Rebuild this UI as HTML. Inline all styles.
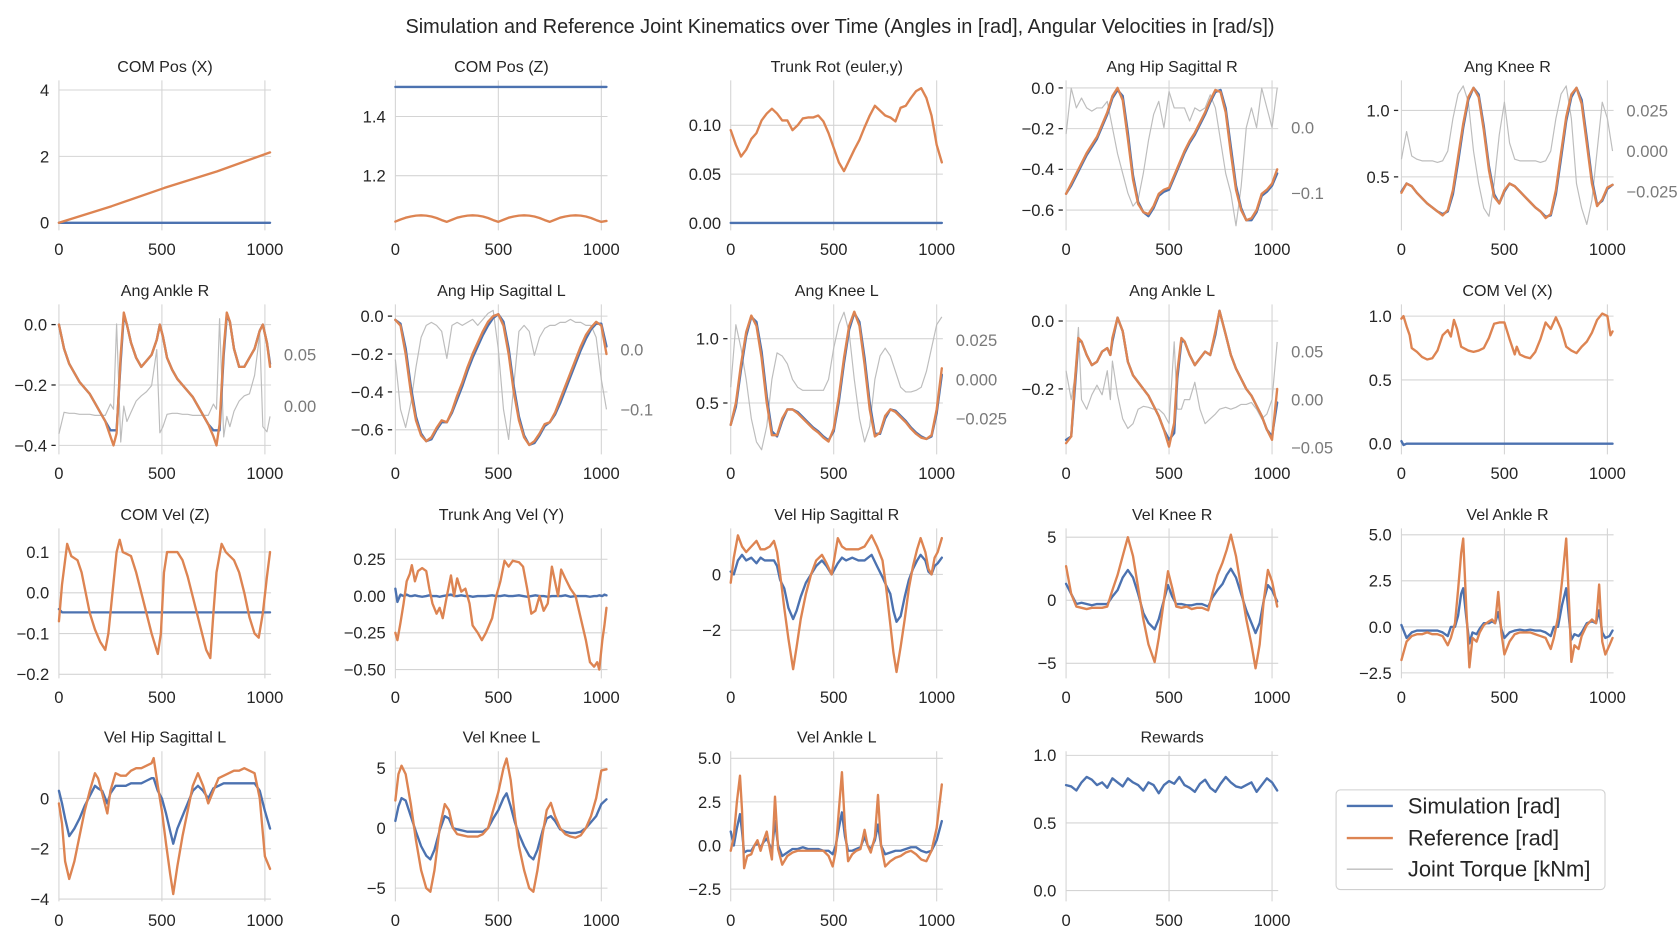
<!DOCTYPE html>
<html><head><meta charset="utf-8"><style>
html,body{margin:0;padding:0;background:#fff;}
svg{display:block;font-family:"Liberation Sans",Arial,sans-serif;}
</style></head>
<body>
<svg id="fig" width="1680" height="941" viewBox="0 0 1568 878" preserveAspectRatio="none" xmlns="http://www.w3.org/2000/svg">
<rect x="0" y="0" width="1568" height="878" fill="#fff"/>
<text x="784" y="31" font-size="18.6" text-anchor="middle" fill="#262626">Simulation and Reference Joint Kinematics over Time (Angles in [rad], Angular Velocities in [rad/s])</text>
<g id="panels"></g>
<g>
<rect x="1247" y="737" width="251" height="93" rx="4" fill="#fff" stroke="#d0d0d0" stroke-width="1"/>
<line x1="1257" y1="752" x2="1300" y2="752" stroke="#4c72b0" stroke-width="2.2"/>
<text x="1314" y="759" font-size="20.5" fill="#262626">Simulation [rad]</text>
<line x1="1257" y1="782" x2="1300" y2="782" stroke="#dd8452" stroke-width="2.2"/>
<text x="1314" y="789" font-size="20.5" fill="#262626">Reference [rad]</text>
<line x1="1257" y1="811" x2="1300" y2="811" stroke="#bdbdbd" stroke-width="1.2"/>
<text x="1314" y="818" font-size="20.5" fill="#262626">Joint Torque [kNm]</text>
</g>
</svg>
<script>
// ---------- DATA ----------
const xTicks=[0,500,1000];
const xTickLabels=['0','500','1000'];
const U=[0,25,50,75,100,125,150,175,200,225,250,275,300,325,350,375,400,425,450,475,500,525,550,575,600,625,650,675,700,725,750,775,800,825,850,875,900,925,950,975,1000,1025];

const p1_t=[0,256,512,768,1025];
const p1_ref=[0,0.5,1.05,1.55,2.12];
const p1_sim=[0,0,0,0,0];

const p2_t=U;
const p2_ref=[1.045,1.052,1.058,1.062,1.065,1.066,1.065,1.062,1.057,1.050,1.044,1.051,1.058,1.062,1.065,1.066,1.065,1.062,1.057,1.050,1.044,1.051,1.058,1.062,1.065,1.066,1.065,1.062,1.057,1.050,1.044,1.051,1.058,1.062,1.065,1.066,1.065,1.062,1.057,1.050,1.044,1.047];
const p2_sim=[1.5,1.5,1.5,1.5,1.5,1.5,1.5,1.5,1.5,1.5,1.5,1.5,1.5,1.5,1.5,1.5,1.5,1.5,1.5,1.5,1.5,1.5,1.5,1.5,1.5,1.5,1.5,1.5,1.5,1.5,1.5,1.5,1.5,1.5,1.5,1.5,1.5,1.5,1.5,1.5,1.5,1.5];

const p3_t=U;
const p3_ref=[0.095,0.08,0.068,0.075,0.086,0.092,0.105,0.112,0.117,0.112,0.105,0.105,0.095,0.1,0.107,0.108,0.108,0.11,0.104,0.092,0.077,0.062,0.053,0.064,0.075,0.085,0.098,0.11,0.12,0.115,0.11,0.108,0.104,0.118,0.12,0.128,0.135,0.138,0.128,0.11,0.08,0.062];
const p3_sim=[0,0,0,0,0,0,0,0,0,0,0,0,0,0,0,0,0,0,0,0,0,0,0,0,0,0,0,0,0,0,0,0,0,0,0,0,0,0,0,0,0,0];

const p4_t=U;
const p4_ref=[-0.52,-0.47,-0.42,-0.37,-0.32,-0.28,-0.24,-0.18,-0.12,-0.04,0.0,-0.06,-0.25,-0.45,-0.57,-0.61,-0.62,-0.58,-0.52,-0.50,-0.49,-0.43,-0.37,-0.31,-0.26,-0.22,-0.17,-0.12,-0.06,-0.01,-0.02,-0.12,-0.32,-0.5,-0.6,-0.65,-0.64,-0.6,-0.52,-0.5,-0.47,-0.40];
const p4_sim=[-0.52,-0.48,-0.43,-0.38,-0.33,-0.29,-0.25,-0.19,-0.13,-0.05,-0.01,-0.04,-0.22,-0.43,-0.56,-0.61,-0.63,-0.59,-0.53,-0.51,-0.50,-0.44,-0.38,-0.32,-0.27,-0.23,-0.18,-0.13,-0.07,-0.02,-0.01,-0.10,-0.29,-0.48,-0.59,-0.65,-0.65,-0.61,-0.53,-0.51,-0.48,-0.42];
const p4_tq=[-0.01,0.06,0.03,0.045,0.03,0.025,0.03,0.03,0.04,0.0,-0.04,-0.07,-0.1,-0.12,-0.11,-0.07,-0.02,0.02,0.04,0.0,0.055,0.03,0.03,0.03,0.01,0.03,0.025,0.03,0.05,0.03,-0.02,-0.07,-0.1,-0.15,-0.09,0.0,0.03,0.0,0.06,0.03,0.0,0.06];

const p5_t=U;
const p5_ref=[0.38,0.45,0.43,0.38,0.34,0.30,0.27,0.24,0.21,0.25,0.40,0.65,0.90,1.10,1.17,1.10,0.85,0.55,0.35,0.30,0.40,0.45,0.43,0.39,0.35,0.31,0.27,0.24,0.19,0.22,0.40,0.68,0.95,1.12,1.17,1.05,0.75,0.45,0.28,0.33,0.42,0.44];
const p5_sim=[0.39,0.45,0.43,0.38,0.34,0.30,0.27,0.24,0.22,0.24,0.37,0.61,0.87,1.08,1.17,1.12,0.88,0.58,0.37,0.30,0.39,0.45,0.43,0.39,0.35,0.31,0.27,0.24,0.20,0.21,0.37,0.64,0.92,1.10,1.17,1.08,0.79,0.48,0.29,0.32,0.41,0.44];
const p5_tq=[-0.005,0.012,-0.003,-0.005,-0.006,-0.006,-0.006,-0.007,-0.006,0.0,0.02,0.035,0.04,0.03,0.0,-0.02,-0.035,-0.04,-0.02,0.01,0.03,0.005,-0.005,-0.006,-0.006,-0.006,-0.006,-0.007,-0.006,0.0,0.02,0.035,0.04,0.02,-0.02,-0.035,-0.045,-0.03,0.0,0.03,0.02,0.0];

const p6_t=[0,25,50,75,100,125,150,175,200,225,250,265,280,300,315,330,350,375,400,425,450,475,490,505,525,550,575,600,625,650,675,700,725,750,765,780,800,815,830,850,875,900,925,950,975,990,1010,1025];
const p6_ref=[0,-0.08,-0.13,-0.16,-0.19,-0.21,-0.23,-0.26,-0.29,-0.32,-0.37,-0.40,-0.36,-0.1,0.04,0.0,-0.06,-0.11,-0.14,-0.12,-0.10,-0.05,0.0,-0.04,-0.11,-0.15,-0.18,-0.20,-0.22,-0.24,-0.27,-0.30,-0.33,-0.37,-0.40,-0.33,-0.08,0.04,0.01,-0.08,-0.14,-0.14,-0.11,-0.08,-0.02,0.0,-0.06,-0.14];
const p6_sim=[0,-0.08,-0.13,-0.16,-0.19,-0.21,-0.23,-0.26,-0.29,-0.32,-0.35,-0.35,-0.35,-0.12,0.03,0.0,-0.06,-0.11,-0.14,-0.12,-0.10,-0.05,0.0,-0.04,-0.11,-0.15,-0.18,-0.20,-0.22,-0.24,-0.27,-0.30,-0.33,-0.35,-0.35,-0.35,-0.1,0.03,0.01,-0.08,-0.14,-0.14,-0.11,-0.08,-0.02,0.0,-0.06,-0.13];
const p6_tq=[-0.027,-0.006,-0.007,-0.007,-0.008,-0.008,-0.008,-0.009,-0.009,-0.009,0.002,-0.003,0.08,-0.035,0.0,-0.015,-0.006,0.005,0.01,0.014,0.02,0.055,-0.026,-0.02,-0.008,-0.007,-0.007,-0.008,-0.008,-0.009,-0.009,-0.009,-0.009,0.002,-0.003,0.085,-0.03,-0.01,-0.02,-0.005,0.005,0.01,0.012,0.03,0.07,-0.02,-0.025,-0.01];

const p7_t=U;
const p7_ref=[-0.02,-0.05,-0.2,-0.4,-0.55,-0.63,-0.66,-0.64,-0.59,-0.55,-0.56,-0.5,-0.42,-0.35,-0.27,-0.2,-0.14,-0.08,-0.03,0.0,0.01,-0.05,-0.2,-0.4,-0.55,-0.64,-0.68,-0.66,-0.62,-0.57,-0.56,-0.51,-0.44,-0.37,-0.3,-0.23,-0.16,-0.1,-0.06,-0.03,-0.05,-0.2];
const p7_sim=[-0.02,-0.04,-0.17,-0.37,-0.53,-0.62,-0.66,-0.65,-0.6,-0.56,-0.56,-0.51,-0.44,-0.37,-0.29,-0.22,-0.16,-0.1,-0.05,-0.01,0.01,-0.03,-0.17,-0.37,-0.53,-0.63,-0.68,-0.67,-0.63,-0.58,-0.56,-0.52,-0.46,-0.39,-0.32,-0.25,-0.18,-0.12,-0.07,-0.04,-0.04,-0.16];
const p7_tq=[-0.017,-0.1,-0.13,-0.09,-0.03,0.02,0.04,0.045,0.04,0.03,-0.015,0.04,0.045,0.04,0.045,0.05,0.04,0.05,0.06,0.065,0.0,-0.1,-0.15,-0.06,0.03,0.04,0.03,-0.01,0.02,0.035,0.04,0.04,0.045,0.045,0.05,0.045,0.045,0.04,0.04,0.02,-0.05,-0.1];

const p8_t=U;
const p8_ref=[0.33,0.5,0.8,1.05,1.18,1.1,0.85,0.5,0.25,0.25,0.38,0.45,0.45,0.42,0.38,0.34,0.3,0.27,0.23,0.20,0.30,0.55,0.85,1.1,1.21,1.1,0.8,0.45,0.24,0.27,0.40,0.45,0.43,0.39,0.35,0.30,0.26,0.23,0.22,0.25,0.45,0.77];
const p8_sim=[0.33,0.47,0.76,1.02,1.17,1.13,0.9,0.55,0.28,0.24,0.36,0.45,0.45,0.43,0.39,0.35,0.31,0.28,0.24,0.21,0.28,0.51,0.81,1.07,1.2,1.13,0.85,0.5,0.26,0.26,0.38,0.45,0.44,0.4,0.36,0.31,0.27,0.24,0.22,0.24,0.42,0.72];
const p8_tq=[-0.005,0.035,0.02,0.0,-0.025,-0.04,-0.045,-0.03,0.0,0.017,0.015,0.01,0.0,-0.005,-0.007,-0.007,-0.007,-0.007,-0.007,0.0,0.02,0.035,0.043,0.03,0.0,-0.025,-0.04,-0.03,0.0,0.015,0.02,0.015,0.005,-0.005,-0.008,-0.008,-0.007,-0.005,0.005,0.02,0.035,0.04];

const p9_t=[0,25,40,60,75,100,125,150,175,200,215,225,250,275,300,325,350,375,400,425,450,475,500,525,540,560,575,600,625,650,675,700,725,745,775,800,825,850,875,900,925,950,975,1000,1025];
const p9_ref=[-0.36,-0.34,-0.2,-0.05,-0.06,-0.1,-0.13,-0.12,-0.09,-0.08,-0.1,-0.05,0.01,-0.03,-0.12,-0.16,-0.18,-0.2,-0.22,-0.25,-0.28,-0.32,-0.37,-0.3,-0.15,-0.05,-0.06,-0.1,-0.13,-0.11,-0.09,-0.1,-0.03,0.03,-0.04,-0.1,-0.14,-0.17,-0.2,-0.22,-0.25,-0.28,-0.32,-0.35,-0.2];
const p9_sim=[-0.35,-0.34,-0.22,-0.06,-0.06,-0.1,-0.13,-0.12,-0.09,-0.08,-0.1,-0.06,0.01,-0.03,-0.12,-0.16,-0.18,-0.2,-0.22,-0.25,-0.28,-0.32,-0.35,-0.33,-0.17,-0.06,-0.06,-0.1,-0.13,-0.11,-0.09,-0.1,-0.04,0.03,-0.04,-0.1,-0.14,-0.17,-0.2,-0.22,-0.25,-0.28,-0.32,-0.34,-0.24];
const p9_tq=[0.03,0.0,0.02,0.075,0.0,-0.01,0.005,0.015,0.005,0.03,0.0,0.04,0.005,-0.02,-0.03,-0.025,-0.01,-0.007,-0.008,-0.01,-0.01,-0.015,-0.025,0.06,-0.01,-0.01,0.0,0.0,0.018,-0.01,-0.025,-0.02,-0.015,-0.01,-0.008,-0.01,-0.008,-0.005,-0.005,-0.003,-0.01,-0.02,-0.015,0.0,0.06];

const p10_t=[0,10,25,40,50,75,100,125,150,175,200,225,240,255,270,290,325,350,375,400,425,450,475,500,525,550,560,575,600,625,650,675,700,725,750,775,800,825,850,875,900,925,950,975,1000,1015,1025];
const p10_ref=[0.98,1.0,0.92,0.85,0.75,0.72,0.68,0.66,0.67,0.73,0.85,0.89,0.84,0.97,0.9,0.76,0.73,0.72,0.73,0.75,0.83,0.94,0.95,0.95,0.82,0.7,0.76,0.7,0.68,0.67,0.72,0.82,0.95,0.9,0.99,0.9,0.76,0.73,0.71,0.76,0.8,0.87,0.97,1.02,1.0,0.85,0.88];
const p10_sim=[0.02,-0.01,0.0,0.0,0.0,0.0,0.0,0.0,0.0,0.0,0.0,0.0,0.0,0.0,0.0,0.0,0.0,0.0,0.0,0.0,0.0,0.0,0.0,0.0,0.0,0.0,0.0,0.0,0.0,0.0,0.0,0.0,0.0,0.0,0.0,0.0,0.0,0.0,0.0,0.0,0.0,0.0,0.0,0.0,0.0,0.0,0.0];

const p11_t=[0,15,30,40,60,90,110,130,150,175,200,225,240,260,280,295,310,350,375,400,425,450,480,495,510,525,550,575,600,625,650,675,700,715,735,750,765,790,810,850,875,900,925,950,970,990,1010,1025];
const p11_ref=[-0.07,0.02,0.08,0.12,0.09,0.08,0.05,0.0,-0.05,-0.09,-0.12,-0.14,-0.1,0.0,0.1,0.13,0.1,0.09,0.05,0.0,-0.05,-0.1,-0.15,-0.1,0.05,0.1,0.1,0.1,0.08,0.04,-0.01,-0.06,-0.11,-0.14,-0.16,-0.05,0.05,0.12,0.1,0.08,0.05,0.0,-0.06,-0.1,-0.11,-0.05,0.04,0.1];
const p11_sim=[-0.04,-0.048,-0.048,-0.048,-0.048,-0.048,-0.048,-0.048,-0.048,-0.048,-0.048,-0.048,-0.048,-0.048,-0.048,-0.048,-0.048,-0.048,-0.048,-0.048,-0.048,-0.048,-0.048,-0.048,-0.048,-0.048,-0.048,-0.048,-0.048,-0.048,-0.048,-0.048,-0.048,-0.048,-0.048,-0.048,-0.048,-0.048,-0.048,-0.048,-0.048,-0.048,-0.048,-0.048,-0.048,-0.048,-0.048,-0.048];

const p12_t=[0,10,25,40,55,70,80,95,110,130,150,165,180,200,215,230,250,270,285,300,320,340,360,375,400,420,440,470,490,510,530,550,570,600,620,640,660,680,700,720,740,760,775,790,805,825,850,875,900,925,945,965,980,990,1005,1015,1025];
const p12_ref=[-0.25,-0.3,-0.18,-0.05,0.1,0.15,0.21,0.1,0.17,0.19,0.17,0.05,-0.05,-0.12,-0.08,-0.15,0.0,0.14,0.0,0.12,0.03,0.05,-0.05,-0.2,-0.25,-0.3,-0.25,-0.15,0.0,0.1,0.24,0.2,0.24,0.23,0.2,0.05,-0.12,-0.1,0.0,-0.1,-0.05,0.2,0.1,0.0,0.18,0.12,0.05,0.0,-0.15,-0.3,-0.45,-0.48,-0.45,-0.5,-0.3,-0.2,-0.08];
const p12_sim=[0.05,-0.04,0.01,0.0,0.01,0.0,0.0,0.005,0.0,-0.005,0.0,0.005,0.0,0.0,-0.005,0.0,0.005,0.01,0.0,0.0,0.005,0.0,0.0,-0.005,0.0,0.0,0.0,0.005,0.0,0.0,0.005,0.0,0.0,0.005,0.0,-0.005,0.0,0.005,0.0,0.0,-0.005,0.0,0.0,0.0,0.0,0.005,-0.005,0.0,0.0,0.0,-0.005,0.0,0.0,0.005,0.0,0.01,0.005];

const p13_t=[0,15,35,55,75,100,125,145,165,190,210,225,240,260,280,303,320,340,365,390,415,443,465,490,520,540,560,590,620,650,684,710,737,755,775,790,805,825,845,865,885,905,922,945,960,975,990,1005,1025];
const p13_ref=[-0.3,0.6,1.4,1.0,0.8,1.0,1.2,0.9,0.9,1.0,1.2,0.8,0.0,-1.2,-2.3,-3.4,-2.6,-1.6,-0.7,0.0,0.5,0.7,0.4,0.0,1.3,1.0,0.9,0.9,0.9,1.0,1.4,1.0,0.5,-0.5,-1.8,-2.8,-3.5,-2.6,-1.6,-0.5,0.3,0.9,1.3,0.8,0.2,0.0,0.6,0.8,1.3];
const p13_sim=[0.1,0.0,0.5,0.7,0.5,0.6,0.4,0.6,0.5,0.5,0.5,0.3,-0.2,-0.5,-1.2,-1.6,-1.3,-0.8,-0.3,0.0,0.3,0.5,0.3,0.0,0.4,0.6,0.5,0.6,0.5,0.5,0.7,0.3,-0.1,-0.4,-0.7,-1.3,-1.7,-1.5,-0.8,-0.2,0.2,0.5,0.7,0.5,0.1,0.0,0.3,0.4,0.6];

const p14_t=[0,25,50,75,100,125,150,175,200,225,250,275,300,325,350,375,400,430,450,475,495,515,535,560,585,610,635,660,690,710,735,760,780,800,825,850,875,900,920,940,960,980,1000,1025];
const p14_ref=[2.7,0.5,-0.5,-0.6,-0.7,-0.6,-0.6,-0.6,-0.5,0.8,2.0,3.5,5.0,3.5,1.0,-1.5,-3.5,-4.9,-3.0,0.0,2.3,1.0,-0.5,-0.6,-0.5,-0.7,-0.6,-0.6,-0.8,0.5,2.0,3.0,4.0,5.2,3.5,1.0,-1.5,-3.5,-5.4,-3.5,0.0,2.4,1.5,-0.5];
const p14_sim=[1.3,0.5,-0.3,-0.2,-0.3,-0.4,-0.3,-0.3,-0.3,0.3,0.8,1.8,2.4,1.8,0.5,-1.0,-1.8,-2.3,-1.5,0.0,1.2,0.3,-0.3,-0.3,-0.4,-0.4,-0.3,-0.3,-0.5,0.2,0.8,1.3,2.0,2.5,1.8,0.5,-0.8,-1.8,-2.6,-1.8,0.0,1.2,0.8,-0.1];

const p15_t=[0,25,50,75,100,125,150,175,200,225,240,260,275,290,300,315,330,345,365,380,400,425,440,455,470,485,500,525,550,575,600,625,650,675,700,725,740,760,780,800,815,825,840,860,875,900,925,945,960,975,990,1010,1025];
const p15_ref=[-1.8,-0.8,-0.5,-0.4,-0.4,-0.3,-0.4,-0.4,-0.5,-1.0,-0.6,0.2,2.0,4.0,4.8,1.0,-2.2,-0.6,-0.8,-0.3,0.1,0.3,0.4,0.2,1.9,-0.3,-1.5,-0.8,-0.4,-0.3,-0.3,-0.3,-0.4,-0.5,-0.6,-1.2,-0.6,0.5,2.5,4.8,1.0,-1.9,-1.0,-1.2,-0.5,0.1,0.4,0.2,2.3,-0.8,-1.5,-1.0,-0.6];
const p15_sim=[0.1,-0.6,-0.3,-0.2,-0.2,-0.2,-0.2,-0.2,-0.3,-0.5,0.0,0.0,0.6,1.8,2.1,0.5,-0.9,-0.3,-0.4,-0.1,0.2,0.2,0.3,0.2,0.8,-0.1,-0.6,-0.3,-0.2,-0.15,-0.2,-0.15,-0.2,-0.2,-0.3,-0.5,0.0,0.0,1.2,2.1,0.3,-0.7,-0.4,-0.5,-0.3,0.2,0.3,0.2,0.9,-0.3,-0.6,-0.5,-0.2];

const p16_t=[0,15,30,50,75,100,125,150,175,190,210,235,250,275,300,325,350,375,400,425,450,460,480,500,520,540,555,575,600,625,650,675,700,725,750,775,800,825,850,875,900,925,950,975,1000,1025];
const p16_ref=[-0.2,-1.0,-2.5,-3.2,-2.5,-1.5,-0.5,0.3,1.0,0.8,0.2,-0.6,0.3,1.0,0.9,0.9,1.1,1.2,1.2,1.3,1.4,1.6,0.5,-0.5,-1.8,-3.0,-3.8,-2.7,-1.5,-0.5,0.5,1.0,0.5,-0.2,0.3,0.8,0.9,1.0,1.1,1.1,1.2,1.1,1.0,0.0,-2.3,-2.8];
const p16_sim=[0.3,-0.2,-0.8,-1.5,-1.2,-0.8,-0.3,0.1,0.5,0.4,0.3,-0.2,0.2,0.5,0.5,0.5,0.6,0.6,0.6,0.7,0.8,0.8,0.3,0.0,-0.6,-1.3,-1.8,-1.2,-0.7,-0.2,0.3,0.5,0.3,0.0,0.4,0.5,0.6,0.6,0.6,0.6,0.6,0.6,0.6,0.3,-0.5,-1.2];

const p17_t=[0,15,30,50,75,100,125,150,170,190,215,240,260,280,300,325,350,375,400,425,450,475,500,525,540,560,580,600,625,650,670,690,715,735,755,775,800,825,850,875,900,925,950,975,1000,1025];
const p17_ref=[2.3,4.5,5.2,4.5,2.0,-1.0,-3.5,-5.0,-5.3,-3.5,0.0,2.0,1.5,0.0,-0.5,-0.6,-0.7,-0.7,-0.7,-0.5,0.0,1.5,3.0,5.0,5.8,4.0,1.0,-1.5,-3.5,-5.0,-5.3,-3.5,-0.5,1.5,2.1,1.0,0.0,-0.5,-0.7,-0.8,-0.6,0.0,1.0,2.5,4.8,4.9];
const p17_sim=[0.6,1.8,2.5,2.3,1.0,-0.3,-1.5,-2.3,-2.6,-1.8,-0.2,1.0,0.8,0.0,-0.1,-0.2,-0.3,-0.3,-0.3,-0.3,0.0,0.8,1.5,2.5,2.9,1.8,0.5,-0.5,-1.5,-2.3,-2.6,-1.8,-0.2,0.8,1.0,0.6,-0.1,-0.3,-0.4,-0.4,-0.3,0.0,0.5,1.0,2.0,2.4];

const p18_t=[0,15,30,45,55,65,80,100,115,130,145,160,175,190,200,215,230,250,275,300,325,350,375,400,425,450,475,495,510,525,540,555,570,590,610,630,650,665,680,700,715,730,750,775,800,825,850,875,900,925,950,975,1000,1025];
const p18_ref=[-0.3,0.5,2.5,4.0,2.0,-1.3,-0.6,-0.5,0.0,0.3,-0.3,0.3,0.8,-0.2,-0.8,2.8,-0.2,-1.1,-0.6,-0.4,-0.3,-0.3,-0.3,-0.3,-0.3,-0.3,-0.6,-1.2,-0.3,2.0,4.2,1.0,-0.9,-0.5,-0.3,-0.2,0.9,0.0,-0.4,0.5,2.9,0.0,-1.2,-0.9,-0.7,-0.6,-0.4,-0.3,-0.5,-0.8,-0.9,-0.3,1.0,3.5];
const p18_sim=[0.8,0.0,1.0,1.8,0.8,-0.4,-0.3,-0.3,0.0,0.1,-0.1,0.2,0.4,0.0,-0.3,1.4,0.0,-0.6,-0.4,-0.2,-0.2,-0.1,-0.2,-0.2,-0.2,-0.3,-0.3,-0.5,0.0,1.0,1.9,0.5,-0.3,-0.3,-0.2,-0.1,0.5,0.0,-0.2,0.3,1.2,0.0,-0.5,-0.4,-0.3,-0.3,-0.2,-0.1,-0.1,-0.3,-0.4,-0.3,0.3,1.4];

const p19_t=U;
const p19_sim=[0.78,0.77,0.74,0.80,0.84,0.82,0.78,0.80,0.76,0.83,0.80,0.77,0.83,0.80,0.78,0.74,0.80,0.78,0.72,0.78,0.81,0.79,0.84,0.78,0.76,0.73,0.79,0.82,0.76,0.73,0.79,0.84,0.80,0.77,0.76,0.78,0.80,0.73,0.78,0.83,0.80,0.74];

// tick arrays
const p1_yt=[0,2,4], p1_yl=['0','2','4'];
const p2_yt=[1.2,1.4], p2_yl=['1.2','1.4'];
const p3_yt=[0,0.05,0.10], p3_yl=['0.00','0.05','0.10'];
const p4_yt=[-0.6,-0.4,-0.2,0], p4_yl=['−0.6','−0.4','−0.2','0.0'];
const p4_rt=[-0.1,0], p4_rl=['−0.1','0.0'];
const p5_yt=[0.5,1.0], p5_yl=['0.5','1.0'];
const p5_rt=[-0.025,0,0.025], p5_rl=['−0.025','0.000','0.025'];
const p6_yt=[-0.4,-0.2,0], p6_yl=['−0.4','−0.2','0.0'];
const p6_rt=[0,0.05], p6_rl=['0.00','0.05'];
const p7_yt=[-0.6,-0.4,-0.2,0], p7_yl=['−0.6','−0.4','−0.2','0.0'];
const p7_rt=[-0.1,0], p7_rl=['−0.1','0.0'];
const p8_yt=[0.5,1.0], p8_yl=['0.5','1.0'];
const p8_rt=[-0.025,0,0.025], p8_rl=['−0.025','0.000','0.025'];
const p9_yt=[-0.2,0], p9_yl=['−0.2','0.0'];
const p9_rt=[-0.05,0,0.05], p9_rl=['−0.05','0.00','0.05'];
const p10_yt=[0,0.5,1.0], p10_yl=['0.0','0.5','1.0'];
const p11_yt=[-0.2,-0.1,0,0.1], p11_yl=['−0.2','−0.1','0.0','0.1'];
const p12_yt=[-0.5,-0.25,0,0.25], p12_yl=['−0.50','−0.25','0.00','0.25'];
const p13_yt=[-2,0], p13_yl=['−2','0'];
const p14_yt=[-5,0,5], p14_yl=['−5','0','5'];
const p15_yt=[-2.5,0,2.5,5], p15_yl=['−2.5','0.0','2.5','5.0'];
const p16_yt=[-4,-2,0], p16_yl=['−4','−2','0'];
const p17_yt=[-5,0,5], p17_yl=['−5','0','5'];
const p18_yt=[-2.5,0,2.5,5], p18_yl=['−2.5','0.0','2.5','5.0'];
const p19_yt=[0,0.5,1.0], p19_yl=['0.0','0.5','1.0'];

// ---------- LAYOUT ----------
const colLeft=[55,369,682,995,1308];
const rowTop=[75,284,493,701];
const PW=198, PH=140, XMAX=1030;
const SIM='#4c72b0', REF='#dd8452', TQ='#bdbdbd';
const TICKFS=15.5, TITLEFS=15;

const panels=[
 {name:'com-pos-x',title:'COM Pos (X)',c:0,r:0,d:[-0.23,4.29],yt:p1_yt,yl:p1_yl,t:p1_t,sim:p1_sim,ref:p1_ref},
 {name:'com-pos-z',title:'COM Pos (Z)',c:1,r:0,d:[1.015,1.522],yt:p2_yt,yl:p2_yl,t:p2_t,sim:p2_sim,ref:p2_ref},
 {name:'trunk-rot',title:'Trunk Rot (euler,y)',c:2,r:0,d:[-0.0077,0.146],yt:p3_yt,yl:p3_yl,t:p3_t,sim:p3_sim,ref:p3_ref},
 {name:'ang-hip-sagittal-r',title:'Ang Hip Sagittal R',c:3,r:0,d:[-0.7,0.037],yt:p4_yt,yl:p4_yl,t:p4_t,sim:p4_sim,ref:p4_ref,tq:p4_tq,rd:[-0.157,0.072],rt:p4_rt,rl:p4_rl},
 {name:'ang-knee-r',title:'Ang Knee R',c:4,r:0,d:[0.097,1.226],yt:p5_yt,yl:p5_yl,t:p5_t,sim:p5_sim,ref:p5_ref,tq:p5_tq,rd:[-0.0487,0.0434],rt:p5_rt,rl:p5_rl},
 {name:'ang-ankle-r',title:'Ang Ankle R',c:0,r:1,d:[-0.43,0.067],yt:p6_yt,yl:p6_yl,t:p6_t,sim:p6_sim,ref:p6_ref,tq:p6_tq,rd:[-0.047,0.099],rt:p6_rt,rl:p6_rl},
 {name:'ang-hip-sagittal-l',title:'Ang Hip Sagittal L',c:1,r:1,d:[-0.73,0.062],yt:p7_yt,yl:p7_yl,t:p7_t,sim:p7_sim,ref:p7_ref,tq:p7_tq,rd:[-0.175,0.075],rt:p7_rt,rl:p7_rl},
 {name:'ang-knee-l',title:'Ang Knee L',c:2,r:1,d:[0.1,1.267],yt:p8_yt,yl:p8_yl,t:p8_t,sim:p8_sim,ref:p8_ref,tq:p8_tq,rd:[-0.048,0.048],rt:p8_rt,rl:p8_rl},
 {name:'ang-ankle-l',title:'Ang Ankle L',c:3,r:1,d:[-0.393,0.049],yt:p9_yt,yl:p9_yl,t:p9_t,sim:p9_sim,ref:p9_ref,tq:p9_tq,rd:[-0.057,0.099],rt:p9_rt,rl:p9_rl},
 {name:'com-vel-x',title:'COM Vel (X)',c:4,r:1,d:[-0.084,1.092],yt:p10_yt,yl:p10_yl,t:p10_t,sim:p10_sim,ref:p10_ref},
 {name:'com-vel-z',title:'COM Vel (Z)',c:0,r:2,d:[-0.21,0.158],yt:p11_yt,yl:p11_yl,t:p11_t,sim:p11_sim,ref:p11_ref},
 {name:'trunk-ang-vel',title:'Trunk Ang Vel (Y)',c:1,r:2,d:[-0.56,0.46],yt:p12_yt,yl:p12_yl,t:p12_t,sim:p12_sim,ref:p12_ref},
 {name:'vel-hip-sagittal-r',title:'Vel Hip Sagittal R',c:2,r:2,d:[-3.73,1.65],yt:p13_yt,yl:p13_yl,t:p13_t,sim:p13_sim,ref:p13_ref},
 {name:'vel-knee-r',title:'Vel Knee R',c:3,r:2,d:[-6.2,5.7],yt:p14_yt,yl:p14_yl,t:p14_t,sim:p14_sim,ref:p14_ref},
 {name:'vel-ankle-r',title:'Vel Ankle R',c:4,r:2,d:[-2.8,5.35],yt:p15_yt,yl:p15_yl,t:p15_t,sim:p15_sim,ref:p15_ref},
 {name:'vel-hip-sagittal-l',title:'Vel Hip Sagittal L',c:0,r:3,d:[-4.09,1.87],yt:p16_yt,yl:p16_yl,t:p16_t,sim:p16_sim,ref:p16_ref},
 {name:'vel-knee-l',title:'Vel Knee L',c:1,r:3,d:[-6.1,6.4],yt:p17_yt,yl:p17_yl,t:p17_t,sim:p17_sim,ref:p17_ref},
 {name:'vel-ankle-l',title:'Vel Ankle L',c:2,r:3,d:[-3.2,5.4],yt:p18_yt,yl:p18_yl,t:p18_t,sim:p18_sim,ref:p18_ref},
 {name:'rewards',title:'Rewards',c:3,r:3,d:[-0.08,1.03],yt:p19_yt,yl:p19_yl,t:p19_t,sim:p19_sim}
];

const NS='http://www.w3.org/2000/svg';
function mk(tag,attrs,parent){const e=document.createElementNS(NS,tag);for(const k in attrs)e.setAttribute(k,attrs[k]);parent.appendChild(e);return e;}
const root=document.getElementById('panels');

panels.forEach(p=>{
  const L=colLeft[p.c], T=rowTop[p.r], B=T+PH, R=L+PW;
  const xs=t=>L+t/XMAX*PW;
  const ys=v=>B-(v-p.d[0])/(p.d[1]-p.d[0])*PH;
  const g=mk('g',{},root);
  
  
  const tt=mk('text',{x:L+PW/2,y:T-8,'font-size':TITLEFS,'text-anchor':'middle',fill:'#262626'},g);
  tt.textContent=p.title;
  
  
  xTicks.forEach((t,i)=>{
    const ln=mk('line',{x1:xs(t),x2:xs(t),y1:T,y2:B,stroke:'#d4d4d4','stroke-width':1},g);
    
    
    const lb=mk('text',{x:xs(t),y:B+23,'font-size':TICKFS,'text-anchor':'middle',fill:'#262626'},g);
    lb.textContent=xTickLabels[i];
    
    
  });
  p.yt.forEach((v,i)=>{
    const y=ys(v);
    const ln=mk('line',{x1:L,x2:R,y1:y,y2:y,stroke:'#d4d4d4','stroke-width':1},g);
    
    
    if(p.rd){
      const tk=mk('line',{x1:L-7,x2:L-3,y1:y,y2:y,stroke:'#262626','stroke-width':1.2},g);
      
      
    }
    const lb=mk('text',{x:p.rd?L-11:L-9,y:y+5.5,'font-size':TICKFS,'text-anchor':'end',fill:'#262626'},g);
    lb.textContent=p.yl[i];
    
    
  });
  if(p.rd){
    const yr=v=>B-(v-p.rd[0])/(p.rd[1]-p.rd[0])*PH;
    p.rt.forEach((v,i)=>{
      const lb=mk('text',{x:R+12,y:yr(v)+5.5,'font-size':TICKFS,'text-anchor':'start',fill:'#7a7a7a'},g);
      lb.textContent=p.rl[i];
      
      
    });
    const d=p.tq.map((v,i)=>(i?'L':'M')+xs(p.t[i]).toFixed(2)+','+yr(v).toFixed(2)).join('');
    const pl=mk('path',{d:d,fill:'none',stroke:TQ,'stroke-width':1.1,'stroke-linejoin':'round'},g);
    
    
  }
  const line=(arr,col,nm)=>{
    const d=arr.map((v,i)=>(i?'L':'M')+xs(p.t[i]).toFixed(2)+','+ys(v).toFixed(2)).join('');
    const pl=mk('path',{d:d,fill:'none',stroke:col,'stroke-width':2.2,'stroke-linejoin':'round','stroke-linecap':'round'},g);
    
    
  };
  if(p.sim) line(p.sim,SIM,'simulation');
  if(p.ref) line(p.ref,REF,'reference');
});
</script>
</body></html>
